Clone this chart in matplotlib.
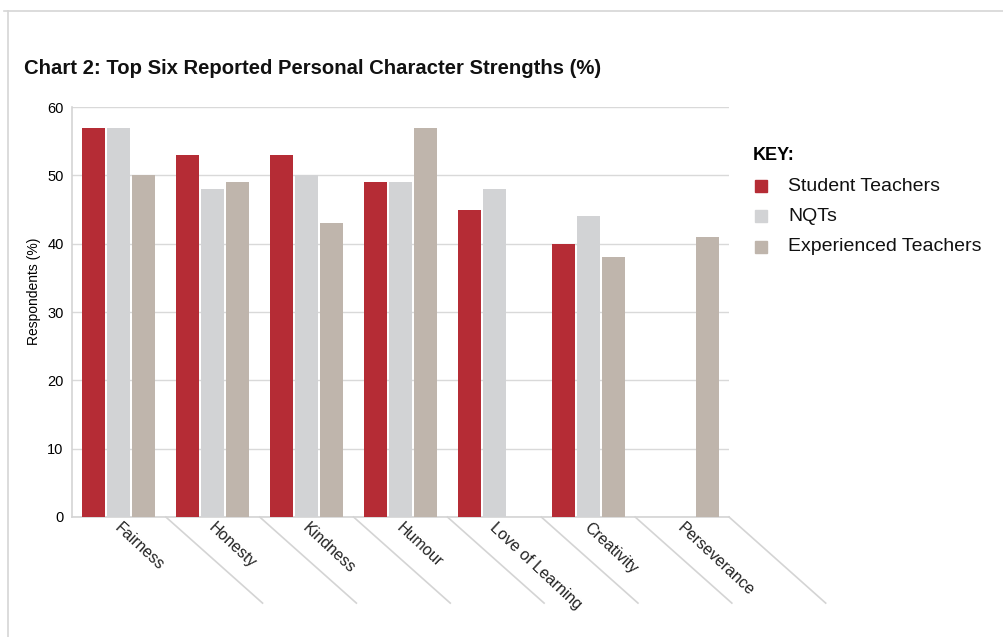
import numpy as np
import matplotlib.pyplot as plt
from matplotlib.lines import Line2D

plt.rcParams['font.family'] = ['Liberation Sans', 'DejaVu Sans']

# data (NaN = no bar shown)
categories = ['Fairness', 'Honesty', 'Kindness', 'Humour', 'Love of Learning',
              'Creativity', 'Perseverance']
student = [57, 53, 53, 49, 45, 40, np.nan]
nqts = [57, 48, 50, 49, 48, 44, np.nan]
experienced = [50, 49, 43, 57, np.nan, 38, 41]
series_names = ['Student Teachers', 'NQTs', 'Experienced Teachers']
colors = ['#b52c35', '#d2d3d5', '#bfb5ac']

fig = plt.figure(figsize=(10.04, 6.37), dpi=100)
ax = fig.add_axes([0.0717, 0.1884, 0.6544, 0.6436])

x = np.arange(len(categories))
w = 0.245
step = 0.266
for i, (vals, c) in enumerate(zip([student, nqts, experienced], colors)):
    ax.bar(x + (i - 1) * step, vals, width=w, color=c, zorder=3)

ax.set_xlim(-0.5, len(categories) - 0.5)
ax.set_ylim(0, 60)
ax.set_yticks(range(0, 61, 10))
ax.yaxis.grid(True, color='#d9d9d9', linewidth=1, zorder=0)
ax.tick_params(axis='both', length=0, labelsize=10.5, pad=6)
ax.set_xticks(x)
ax.set_xticklabels([])
for s in ['top', 'right']:
    ax.spines[s].set_visible(False)
for s in ['left', 'bottom']:
    ax.spines[s].set_color('#d4d4d4')
    ax.spines[s].set_linewidth(1.2)

# rotated category labels
for xi, name in zip(x, categories):
    ax.text(xi - 0.02, -1.3, name, rotation=-43, rotation_mode='anchor',
            ha='left', va='center', fontsize=11.5, color='#222222', clip_on=False)

# diagonal separators from category boundaries
for xi in x:
    ax.plot([xi + 0.5, xi + 1.53], [0, -12.6], color='#d4d4d4', lw=1.2,
            clip_on=False, zorder=1)

ax.set_ylabel('Respondents (%)', fontsize=10)
ax.yaxis.set_label_coords(-0.047, 0.55)

fig.text(0.024, 0.893, 'Chart 2: Top Six Reported Personal Character Strengths (%)',
         fontsize=14.6, fontweight='bold', va='center', color='#111111')

# legend
fig.text(0.750, 0.756, 'KEY:', fontsize=13, fontweight='bold', va='center')
for i, (name, c) in enumerate(zip(series_names, colors)):
    yy = 0.708 - i * 0.0475
    fig.add_artist(Line2D([0.758], [yy], marker='s', markersize=9, color=c,
                          linestyle='none', transform=fig.transFigure))
    fig.text(0.785, yy, name, fontsize=14, va='center', color='#111111')

# outer frame
fig.add_artist(Line2D([0.004, 1.0], [0.982, 0.982], color='#d6d6d6', lw=1.2,
                      transform=fig.transFigure))
fig.add_artist(Line2D([0.008, 0.008], [0.0, 0.982], color='#d6d6d6', lw=1.2,
                      transform=fig.transFigure))

fig.savefig('out.png', dpi=100)
